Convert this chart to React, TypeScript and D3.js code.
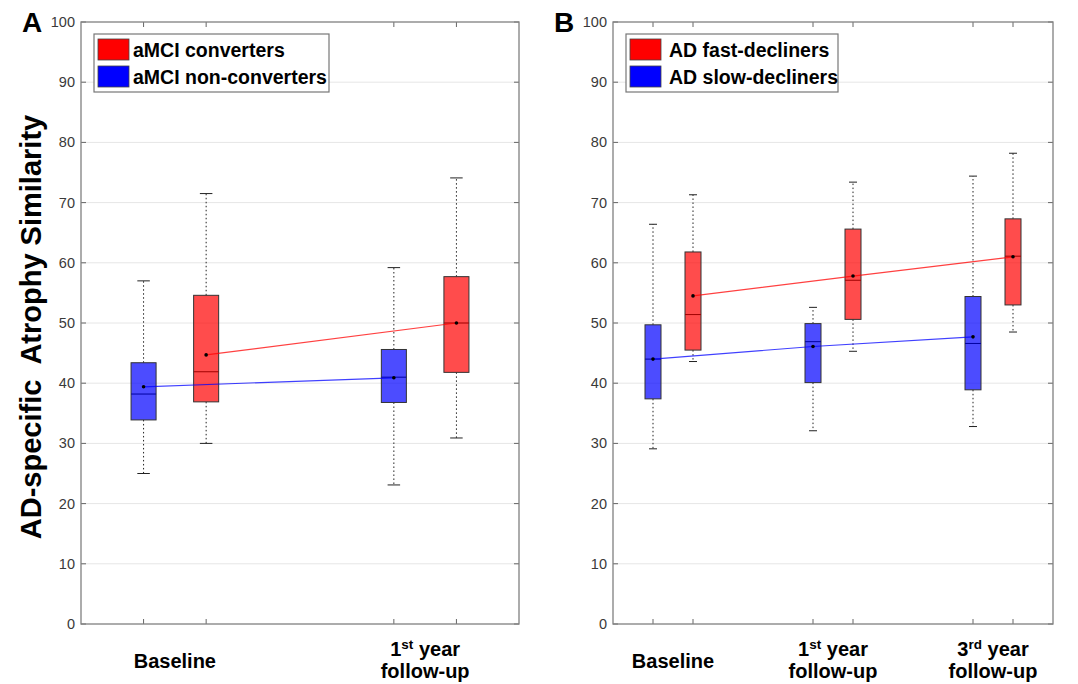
import { useEffect, useRef } from "react";
import * as d3 from "d3";

// ---------- values ----------
const yTicks = [0, 10, 20, 30, 40, 50, 60, 70, 80, 90, 100];

// panel A: aMCI
const aGroups = [["Baseline"], ["1^st year", "follow-up"]];
// [lower whisker, q1, median, q3, upper whisker]
const aNonConvStats = [
  [25.0, 33.9, 38.2, 43.4, 57.0],
  [23.1, 36.8, 41.0, 45.6, 59.2],
];
const aNonConvMeans = [39.4, 40.9];
const aConvStats = [
  [30.0, 36.9, 41.9, 54.6, 71.5],
  [30.9, 41.8, 50.0, 57.7, 74.1],
];
const aConvMeans = [44.7, 50.0];

// panel B: AD
const bGroups = [["Baseline"], ["1^st year", "follow-up"], ["3^rd year", "follow-up"]];
const bSlowStats = [
  [29.1, 37.4, 44.0, 49.7, 66.4],
  [32.1, 40.1, 46.9, 49.9, 52.6],
  [32.8, 38.9, 46.6, 54.4, 74.4],
];
const bSlowMeans = [44.0, 46.1, 47.7];
const bFastStats = [
  [43.6, 45.5, 51.4, 61.8, 71.3],
  [45.3, 50.6, 57.1, 65.6, 73.4],
  [48.5, 53.0, 61.1, 67.3, 78.2],
];
const bFastMeans = [54.5, 57.8, 61.0];

const RED = "#ff0000";
const BLUE = "#0000ff";
const FONT = "Arial, 'Liberation Sans', sans-serif";

type Series = { name: string; color: string; stats: number[][]; means: number[] };
type Panel = {
  tag: string;
  groups: string[][];
  series: Series[]; // left box first
  legend: Series[]; // legend order
  left: number;
  right: number;
  legendW: number;
  textGap: number;
};

const panels: Panel[] = [
  {
    tag: "A",
    groups: aGroups,
    series: [
      { name: "aMCI non-converters", color: BLUE, stats: aNonConvStats, means: aNonConvMeans },
      { name: "aMCI converters", color: RED, stats: aConvStats, means: aConvMeans },
    ],
    legend: [],
    left: 81,
    right: 519,
    legendW: 235,
    textGap: 4,
  },
  {
    tag: "B",
    groups: bGroups,
    series: [
      { name: "AD slow-decliners", color: BLUE, stats: bSlowStats, means: bSlowMeans },
      { name: "AD fast-decliners", color: RED, stats: bFastStats, means: bFastMeans },
    ],
    legend: [],
    left: 613,
    right: 1053,
    legendW: 212,
    textGap: 8,
  },
];
panels.forEach((p) => (p.legend = [p.series[1], p.series[0]]));

const W = 1078, H = 684;
const top = 22, bottom = 624;

// writes "1^st year" as 1 + superscript st + " year"
function addLabelLine(t: d3.Selection<SVGTextElement, unknown, null, undefined>, s: string) {
  const m = s.match(/^(\d+)\^(\w+)(.*)$/);
  if (!m) {
    t.append("tspan").text(s);
    return;
  }
  t.append("tspan").text(m[1]);
  t.append("tspan").attr("dy", -7).attr("font-size", 13.5).text(m[2]);
  t.append("tspan").attr("dy", 7).text(m[3]);
}

function drawPanel(svg: d3.Selection<SVGSVGElement, unknown, null, undefined>, p: Panel) {
  const n = p.groups.length;
  const x = d3.scaleLinear().domain([0, 4 * n - 1]).range([p.left, p.right]);
  const y = d3.scaleLinear().domain([0, 100]).range([bottom, top]);
  const pos = (gi: number, si: number) => 1.5 + 4 * gi + (si === 0 ? -0.5 : 0.5);
  const unit = x(1) - x(0);
  const boxW = 0.4 * unit, capW = 0.2 * unit;

  const g = svg.append("g");

  // grid
  g.append("g")
    .selectAll("line")
    .data(yTicks.slice(1, -1))
    .join("line")
    .attr("x1", p.left).attr("x2", p.right)
    .attr("y1", (d) => y(d)).attr("y2", (d) => y(d))
    .attr("stroke", "#e6e6e6").attr("stroke-width", 1);

  // y tick labels + inner ticks on both sides
  g.append("g")
    .selectAll("text")
    .data(yTicks)
    .join("text")
    .attr("x", p.left - 6)
    .attr("y", (d) => y(d) + 5)
    .attr("text-anchor", "end")
    .attr("font-family", FONT)
    .attr("font-size", 14.5)
    .attr("fill", "#3a3a3a")
    .text((d) => d);
  const tk = g.append("g").attr("stroke", "#666").attr("stroke-width", 1);
  yTicks.forEach((d) => {
    tk.append("line").attr("x1", p.left).attr("x2", p.left + 5).attr("y1", y(d)).attr("y2", y(d));
    tk.append("line").attr("x1", p.right - 5).attr("x2", p.right).attr("y1", y(d)).attr("y2", y(d));
  });
  p.groups.forEach((_, gi) =>
    [0, 1].forEach((si) => {
      const xx = x(pos(gi, si));
      tk.append("line").attr("x1", xx).attr("x2", xx).attr("y1", bottom).attr("y2", bottom - 5);
      tk.append("line").attr("x1", xx).attr("x2", xx).attr("y1", top).attr("y2", top + 5);
    })
  );

  // boxes
  p.series.forEach((s, si) => {
    const sg = g.append("g");
    s.stats.forEach((st, gi) => {
      const cx = x(pos(gi, si));
      const [lo, q1, med, q3, hi] = st;
      const wh = sg.append("g").attr("stroke", "#222").attr("stroke-width", 1);
      wh.append("line").attr("x1", cx).attr("x2", cx).attr("y1", y(q3)).attr("y2", y(hi)).attr("stroke-dasharray", "1.5,2.5");
      wh.append("line").attr("x1", cx).attr("x2", cx).attr("y1", y(q1)).attr("y2", y(lo)).attr("stroke-dasharray", "1.5,2.5");
      wh.append("line").attr("x1", cx - capW / 2).attr("x2", cx + capW / 2).attr("y1", y(hi)).attr("y2", y(hi));
      wh.append("line").attr("x1", cx - capW / 2).attr("x2", cx + capW / 2).attr("y1", y(lo)).attr("y2", y(lo));
      sg.append("rect")
        .attr("x", cx - boxW / 2).attr("width", boxW)
        .attr("y", y(q3)).attr("height", y(q1) - y(q3))
        .attr("fill", s.color).attr("fill-opacity", 0.7)
        .attr("stroke", "#333").attr("stroke-width", 1);
      sg.append("line")
        .attr("x1", cx - boxW / 2).attr("x2", cx + boxW / 2)
        .attr("y1", y(med)).attr("y2", y(med))
        .attr("stroke", d3.color(s.color)!.darker(1.3).formatHex()).attr("stroke-width", 1);
    });
  });

  // mean trend lines and mean dots
  p.series.forEach((s, si) => {
    const line = d3.line<number>().x((_, gi) => x(pos(gi, si))).y((d) => y(d));
    g.append("path").attr("d", line(s.means)).attr("fill", "none")
      .attr("stroke", s.color).attr("stroke-opacity", 0.75).attr("stroke-width", 1.2);
    g.append("g").selectAll("circle").data(s.means).join("circle")
      .attr("cx", (_, gi) => x(pos(gi, si))).attr("cy", (d) => y(d)).attr("r", 1.8).attr("fill", "#000");
  });

  // frame
  g.append("rect").attr("x", p.left).attr("y", top).attr("width", p.right - p.left).attr("height", bottom - top)
    .attr("fill", "none").attr("stroke", "#808080").attr("stroke-width", 1.3);

  // x labels
  p.groups.forEach((lines, gi) => {
    const cx = (x(pos(gi, 0)) + x(pos(gi, 1))) / 2;
    const baseY = lines.length === 1 ? 668 : 656;
    lines.forEach((ln, li) => {
      const t = g.append("text").attr("x", cx).attr("y", baseY + li * 22)
        .attr("text-anchor", "middle").attr("font-family", FONT)
        .attr("font-weight", "bold").attr("font-size", 20).attr("fill", "#000");
      addLabelLine(t, ln);
    });
  });

  // legend
  const lx = p.left + 13, ly = 34;
  const lg = g.append("g");
  lg.append("rect").attr("x", lx).attr("y", ly).attr("width", p.legendW).attr("height", 58)
    .attr("fill", "#fff").attr("stroke", "#777").attr("stroke-width", 1.2);
  p.legend.forEach((s, i) => {
    lg.append("rect").attr("x", lx + 4).attr("y", ly + 5 + i * 27).attr("width", 31).attr("height", 21)
      .attr("fill", s.color).attr("stroke", "#444").attr("stroke-width", 0.8);
    lg.append("text").attr("x", lx + 35 + p.textGap).attr("y", ly + 23 + i * 27)
      .attr("font-family", FONT).attr("font-weight", "bold").attr("font-size", 19.5).attr("fill", "#000")
      .text(s.name);
  });

  // panel tag
  svg.append("text").attr("x", p.left - 59).attr("y", 32)
    .attr("font-family", FONT).attr("font-weight", "bold").attr("font-size", 28).text(p.tag);
}

export default function App() {
  const ref = useRef<SVGSVGElement>(null);

  useEffect(() => {
    const svg = d3.select(ref.current!);
    svg.selectAll("*").remove();
    svg.append("rect").attr("width", W).attr("height", H).attr("fill", "#fff");
    panels.forEach((p) => drawPanel(svg, p));

    // shared y-axis title
    svg.append("text")
      .attr("transform", `translate(41, ${(top + bottom) / 2 + 4}) rotate(-90)`)
      .attr("text-anchor", "middle")
      .attr("font-family", FONT).attr("font-weight", "bold").attr("font-size", 29)
      .style("white-space", "pre")
      .text("AD-specific  Atrophy Similarity");
  }, []);

  return (
    <svg ref={ref} width={W} height={H} style={{ position: "absolute", left: 0, top: 0 }} />
  );
}
